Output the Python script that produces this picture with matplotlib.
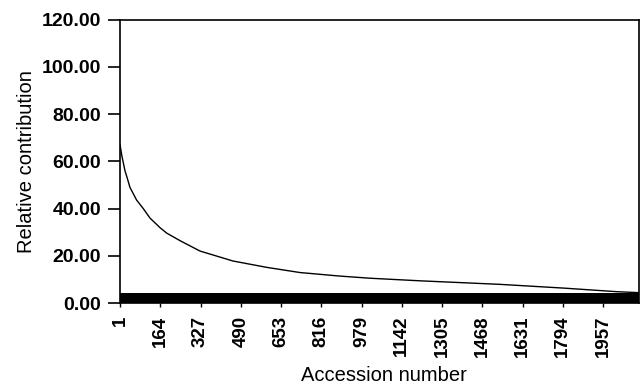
import numpy as np
from matplotlib import pyplot as plt

# values (accession rank -> relative contribution)
accession = [1, 8, 21, 31, 41, 68, 95, 122, 164, 190, 244, 325, 458, 595, 730,
             892, 1013, 1216, 1540, 1800, 2012, 2100]
contribution = [67.0, 62.5, 56.0, 52.6, 49.0, 43.6, 40.0, 36.0, 31.8, 29.6, 26.4, 22.0, 17.8,
                15.1, 12.9, 11.4, 10.5, 9.4, 7.9, 6.3, 4.8, 4.4]

# thick black band along the bottom (individual contributions, all tiny)
band_level = 4.2

xticks = [1, 164, 327, 490, 653, 816, 979, 1142, 1305, 1468, 1631, 1794, 1957]
yticks = [0, 20, 40, 60, 80, 100, 120]

plt.rcParams['font.family'] = ['Liberation Sans', 'DejaVu Sans']

fig = plt.figure(figsize=(6.42, 3.86), dpi=100)
axs = fig.add_axes([0.187, 0.215, 0.808, 0.734])

axs.fill_between([accession[0], 2102], 0, band_level, color='black', linewidth=0)
axs.plot(accession, contribution, '-k', linewidth=1.0)

axs.set_xlim(1, 2102)
axs.set_ylim(0, 120)
axs.set_xticks(xticks)
axs.set_xticklabels([str(t) for t in xticks], rotation=90, fontsize=13.5, fontweight='bold')
axs.set_yticks(yticks)
axs.set_yticklabels(['%.2f' % t for t in yticks], fontsize=14, fontweight='bold')
axs.tick_params(axis='y', length=8.5, width=1.2, direction='out', pad=5)
axs.tick_params(axis='x', length=3, width=1, direction='out', pad=6)
for s in axs.spines.values():
    s.set_linewidth(1.2)

axs.set_xlabel('Accession number', fontsize=14.5, va='top')
axs.xaxis.set_label_coords(0.508, -0.222)
axs.set_ylabel('Relative contribution', fontsize=14.5, va='center')
axs.yaxis.set_label_coords(-0.181, 0.5)

plt.savefig('out.png', dpi=100)
plt.close(fig)
